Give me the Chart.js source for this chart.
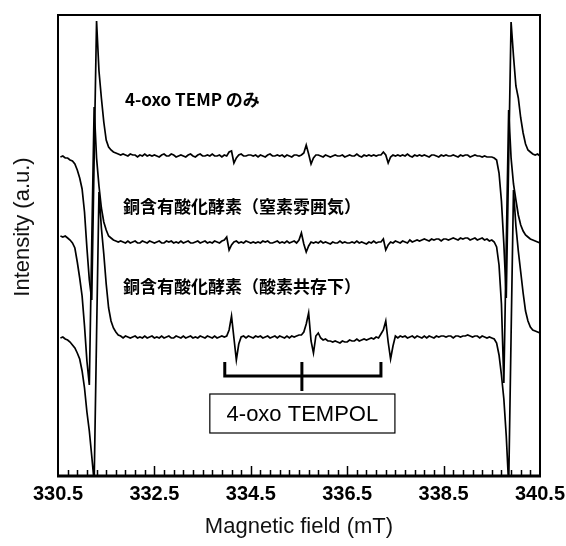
<!DOCTYPE html>
<html lang="ja">
<head>
<meta charset="UTF-8">
<title>EPR spectra</title>
<script src="https://cdn.jsdelivr.net/npm/chart.js@4.4.0/dist/chart.umd.min.js"></script>
<style>
  html, body { margin: 0; padding: 0; background: #fff; }
  #epr { display: block; }
</style>
</head>
<body>
<canvas id="epr" width="566" height="546"></canvas>
<script>
// magnetic field grid (mT), shared by all three spectra
var field = [
  330.55,330.6,330.65,330.7,330.75,330.8,330.85,330.9,330.95,331,331.05,331.1,331.15,331.2,331.25,331.3,331.35,331.4,331.45,331.5,
  331.55,331.6,331.65,331.7,331.75,331.8,331.85,331.9,331.95,332,332.05,332.1,332.15,332.2,332.25,332.3,332.35,332.4,332.45,332.5,
  332.55,332.6,332.65,332.7,332.75,332.8,332.85,332.9,332.95,333,333.05,333.1,333.15,333.2,333.25,333.3,333.35,333.4,333.45,333.5,
  333.55,333.6,333.65,333.7,333.75,333.8,333.85,333.9,333.95,334,334.05,334.1,334.15,334.2,334.25,334.3,334.35,334.4,334.45,334.5,
  334.55,334.6,334.65,334.7,334.75,334.8,334.85,334.9,334.95,335,335.05,335.1,335.15,335.2,335.25,335.3,335.35,335.4,335.45,335.5,
  335.55,335.6,335.65,335.7,335.75,335.8,335.85,335.9,335.95,336,336.05,336.1,336.15,336.2,336.25,336.3,336.35,336.4,336.45,336.5,
  336.55,336.6,336.65,336.7,336.75,336.8,336.85,336.9,336.95,337,337.05,337.1,337.15,337.2,337.25,337.3,337.35,337.4,337.45,337.5,
  337.55,337.6,337.65,337.7,337.75,337.8,337.85,337.9,337.95,338,338.05,338.1,338.15,338.2,338.25,338.3,338.35,338.4,338.45,338.5,
  338.55,338.6,338.65,338.7,338.75,338.8,338.85,338.9,338.95,339,339.05,339.1,339.15,339.2,339.25,339.3,339.35,339.4,339.45,339.5,
  339.55,339.6,339.65,339.7,339.75,339.8,339.85,339.9,339.95,340,340.05,340.1,340.15,340.2,340.25,340.3,340.35,340.4,340.45,340.5
];

// 4-oxo TEMP only (stacked, a.u.)
var tempOnly = [
  319,320,318,318,316,315,312,306,298,287,264,228,196,176,318,455,405,378,354,336,
  329,326,324,323,322,321,322,321,320,322,321,321,319,321,320,322,320,321,320,321,
  320,319,321,322,320,320,322,321,319,320,321,320,319,321,322,320,319,321,322,320,
  320,321,320,322,320,320,321,319,321,320,324,325,313,318,321,322,320,320,321,321,
  320,321,319,321,320,319,321,322,320,320,321,320,321,319,321,320,319,321,321,320,
  321,323,331,322,312,318,321,321,320,319,321,320,319,320,321,320,320,321,319,320,
  321,320,320,322,320,319,321,320,321,320,321,320,321,321,324,321,313,319,321,320,
  321,320,321,320,322,320,319,321,320,321,320,321,320,319,321,321,320,319,321,320,
  321,320,320,321,320,319,321,320,321,321,319,320,321,320,320,319,320,319,319,319,
  318,316,303,275,232,178,316,454,420,390,378,358,343,332,326,324,322,321,322,320
];

// copper oxidase under N2
var underN2 = [
  240,239,240,238,236,233,228,214,198,180,150,115,91,232,369,318,290,268,254,246,
  240,238,236,235,234,235,234,233,235,233,234,235,233,233,235,234,233,235,234,233,
  234,235,233,233,235,234,235,233,234,233,235,233,234,235,233,233,234,235,233,234,
  235,233,234,233,235,234,233,235,236,239,226,231,234,235,233,234,233,235,234,233,
  234,233,234,233,235,234,235,233,233,234,235,233,234,233,235,233,234,235,233,236,
  243,232,224,230,234,233,234,233,235,233,234,233,232,234,233,233,235,233,234,233,
  233,234,233,235,233,234,233,232,234,233,235,233,234,234,237,226,231,234,233,235,
  234,233,235,234,233,236,234,235,236,235,236,237,236,235,237,236,237,237,235,237,
  237,236,237,238,237,236,238,237,238,238,236,237,238,236,237,238,236,237,235,236,
  234,229,211,172,93,230,366,318,292,276,261,251,245,241,239,237,236,235,234,233
];

// copper oxidase with O2
var withO2 = [
  138,139,137,136,134,131,128,123,117,105,88,64,45,20,-6,140,284,248,222,192,
  168,155,148,144,141,140,138,140,139,138,139,140,138,139,138,140,138,139,140,138,
  139,138,140,138,139,140,138,138,140,139,138,140,138,139,140,138,139,138,140,139,
  138,140,139,138,140,138,139,140,139,140,146,160,138,116,132,139,140,138,140,139,
  138,140,139,140,138,139,140,138,139,140,138,140,139,138,140,138,140,139,140,141,
  141,144,152,163,135,123,140,143,138,136,137,135,135,134,135,134,133,135,134,134,
  136,135,135,137,135,136,137,136,137,138,137,139,138,142,146,155,134,117,130,140,
  138,140,139,140,138,139,140,138,140,139,138,140,138,140,139,138,140,139,140,140,
  139,140,140,138,140,140,139,140,140,141,140,139,140,140,138,140,139,138,139,138,
  137,133,121,101,77,40,-9,140,286,250,225,204,183,165,155,149,146,145,144,143
];

var traceNames = ['4-oxo TEMP のみ', '銅含有酸化酵素（窒素雰囲気）', '銅含有酸化酵素（酸素共存下）'];
var xTickLabels = [330.5, 332.5, 334.5, 336.5, 338.5, 340.5];
var minorStep = 0.2;
var tempolLines = [333.96, 335.56, 337.2];
var tempolName = '4-oxo TEMPOL';

function toPoints(ys) {
  return field.map(function (f, i) { return { x: f, y: ys[i] }; });
}

var decor = {
  id: 'decor',
  afterDatasetsDraw: function (chart) {
    var c = chart.ctx, a = chart.chartArea;
    var xs = chart.scales.x, ys = chart.scales.y;
    function X(v) { return xs.getPixelForValue(v); }
    function Y(v) { return ys.getPixelForValue(v); }
    c.save();
    c.strokeStyle = '#000';
    c.fillStyle = '#000';

    // frame
    c.lineWidth = 2;
    c.strokeRect(a.left, a.top, a.right - a.left, a.bottom - a.top);
    c.lineWidth = 3;
    c.beginPath();
    c.moveTo(a.left - 1, a.bottom);
    c.lineTo(a.right + 1, a.bottom);
    c.stroke();

    // inward ticks
    c.lineWidth = 1.5;
    var n = Math.round((xs.max - xs.min) / minorStep);
    for (var i = 1; i < n; i++) {
      var v = xs.min + i * minorStep;
      var major = xTickLabels.some(function (t) { return Math.abs(t - v) < 1e-6; });
      var px = Math.round(X(v)) + 0.5;
      c.beginPath();
      c.moveTo(px, a.bottom);
      c.lineTo(px, a.bottom - (major ? 10 : 6));
      c.stroke();
    }

    // trace captions
    c.font = 'bold 17px "Noto Sans CJK JP"';
    c.textBaseline = 'middle';
    c.textAlign = 'left';
    c.fillText(traceNames[0], X(331.89), Y(376));
    c.fillText(traceNames[1], X(331.85), Y(269));
    c.fillText(traceNames[2], X(331.85), Y(189));

    // TEMPOL bracket
    c.lineWidth = 3;
    c.lineJoin = 'miter';
    c.beginPath();
    c.moveTo(X(tempolLines[0]), Y(114));
    c.lineTo(X(tempolLines[0]), Y(100));
    c.lineTo(X(tempolLines[2]), Y(100));
    c.lineTo(X(tempolLines[2]), Y(114));
    c.stroke();
    c.beginPath();
    c.moveTo(X(tempolLines[1]), Y(114));
    c.lineTo(X(tempolLines[1]), Y(85));
    c.stroke();

    // label box
    c.lineWidth = 1.2;
    var bx0 = X(333.65), bx1 = X(337.49), by0 = Y(82), by1 = Y(43);
    c.fillStyle = '#fff';
    c.fillRect(bx0, by0, bx1 - bx0, by1 - by0);
    c.strokeRect(bx0, by0, bx1 - bx0, by1 - by0);
    c.fillStyle = '#000';
    c.font = '22px "Liberation Sans"';
    c.textAlign = 'center';
    c.fillText(tempolName, (bx0 + bx1) / 2, (by0 + by1) / 2 + 1);

    // y title
    c.save();
    c.translate(a.left - 35, a.top + 212);
    c.rotate(-Math.PI / 2);
    c.fillStyle = '#111';
    c.font = '22px "Liberation Sans"';
    c.fillText('Intensity (a.u.)', 0, 0);
    c.restore();

    c.restore();
  }
};

var lineStyle = { borderColor: '#000', borderWidth: 1.7, pointRadius: 0, tension: 0, fill: false };

new Chart(document.getElementById('epr').getContext('2d'), {
  type: 'line',
  data: {
    datasets: [
      Object.assign({ label: traceNames[0], data: toPoints(tempOnly) }, lineStyle),
      Object.assign({ label: traceNames[1], data: toPoints(underN2) }, lineStyle),
      Object.assign({ label: traceNames[2], data: toPoints(withO2) }, lineStyle)
    ]
  },
  options: {
    responsive: false,
    animation: false,
    layout: { padding: { top: 15, right: 26, bottom: 0, left: 0 } },
    plugins: { legend: { display: false }, tooltip: { enabled: false } },
    scales: {
      x: {
        type: 'linear',
        min: 330.5,
        max: 340.5,
        afterBuildTicks: function (s) { s.ticks = xTickLabels.map(function (v) { return { value: v }; }); },
        afterFit: function (s) { s.height = 70; s.paddingLeft = 0; s.paddingRight = 0; },
        grid: { display: false, drawTicks: false },
        border: { display: false },
        ticks: {
          autoSkip: false,
          maxRotation: 0,
          padding: 6,
          color: '#000',
          font: { family: 'Liberation Sans', size: 20, weight: 'bold' },
          callback: function (v) { return Number(v).toFixed(1); }
        },
        title: {
          display: true,
          text: 'Magnetic field (mT)',
          color: '#111',
          font: { family: 'Liberation Sans', size: 22 },
          padding: { top: 0, bottom: 6 }
        }
      },
      y: {
        min: 0,
        max: 461,
        afterFit: function (s) { s.width = 58; },
        grid: { display: false, drawTicks: false },
        border: { display: false },
        ticks: { display: false }
      }
    }
  },
  plugins: [decor]
});
</script>
</body>
</html>
